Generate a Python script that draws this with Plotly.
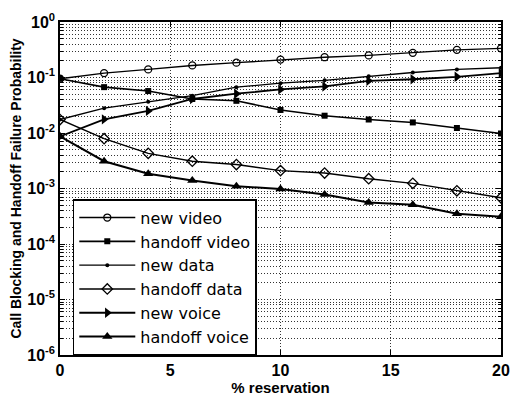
import plotly.graph_objects as go

# % reservation levels
reservation = [0, 2, 4, 6, 8, 10, 12, 14, 16, 18, 20]

# blocking / failure probabilities per traffic class
new_video = [0.095, 0.12, 0.14, 0.165, 0.185, 0.21, 0.232, 0.25, 0.278, 0.315, 0.335]
handoff_video = [0.095, 0.067, 0.057, 0.041, 0.038, 0.026, 0.0205, 0.0175, 0.0155, 0.0123, 0.0098]
new_data = [0.0175, 0.028, 0.0365, 0.047, 0.067, 0.079, 0.089, 0.105, 0.123, 0.14, 0.15]
handoff_data = [0.0175, 0.0079, 0.0043, 0.0031, 0.0027, 0.0021, 0.0019, 0.0015, 0.00124, 0.00091, 0.00068]
new_voice = [0.0087, 0.0176, 0.025, 0.041, 0.051, 0.061, 0.069, 0.087, 0.093, 0.103, 0.12]
handoff_voice = [0.0087, 0.0031, 0.00185, 0.0014, 0.0011, 0.00098, 0.00078, 0.00056, 0.00051, 0.00035, 0.00031]

series = [
    ("new video", new_video, dict(symbol="circle-open", size=7, line=dict(width=1.3)), 1.4),
    ("handoff video", handoff_video, dict(symbol="square", size=6), 1.6),
    ("new data", new_data, dict(symbol="circle", size=4), 1.3),
    ("handoff data", handoff_data, dict(symbol="diamond-open", size=8, line=dict(width=1.3)), 1.4),
    ("new voice", new_voice, dict(symbol="triangle-right", size=9), 1.8),
    ("handoff voice", handoff_voice, dict(symbol="triangle-up", size=9), 2.0),
]

fig = go.Figure()
for name, vals, marker, lw in series:
    fig.add_trace(go.Scatter(
        x=reservation, y=vals, name=name, mode="lines+markers",
        line=dict(color="black", width=lw),
        marker=dict(color="black", **marker),
    ))

decades = [10.0 ** k for k in range(-6, 1)]
decade_text = ["10<sup>%d</sup>" % k for k in range(-6, 1)]
minor_vals = [m * 10.0 ** k for k in range(-6, 0) for m in range(2, 10)]

font = dict(family="Liberation Sans, Arial, sans-serif", size=16, color="black", weight="bold")
grid = dict(gridcolor="#333", griddash="1px,2px", gridwidth=1)

fig.update_layout(
    width=521, height=404,
    margin=dict(l=60, r=11, t=17, b=40),
    paper_bgcolor="white", plot_bgcolor="white",
    font=font,
    showlegend=True,
    legend=dict(
        x=0.029, y=0.468, xanchor="left", yanchor="top",
        bgcolor="white", bordercolor="black", borderwidth=1.5,
        font=dict(family="DejaVu Sans, sans-serif", size=16, color="black", weight="normal"),
        itemwidth=56, tracegroupgap=0,
    ),
    xaxis=dict(
        range=[0, 20], tickvals=[0, 5, 10, 15, 20],
        ticks="inside", ticklen=5, tickcolor="black",
        showline=True, linecolor="black", linewidth=1.5, mirror="ticks",
        showgrid=True, **grid,
        zeroline=False,
        title=dict(text="% reservation", font=dict(size=15), standoff=4),
        tickfont=dict(size=16),
    ),
    yaxis=dict(
        type="log", range=[-6, 0],
        tickvals=decades, ticktext=decade_text,
        ticks="inside", ticklen=5, tickcolor="black",
        showline=True, linecolor="black", linewidth=1.5, mirror="ticks",
        showgrid=True, **grid,
        minor=dict(tickvals=minor_vals, ticks="inside", ticklen=3, tickcolor="black",
                   showgrid=True, **grid),
        zeroline=False,
        title=dict(text="Call Blocking and Handoff Failure Probability", font=dict(size=14), standoff=2),
        tickfont=dict(size=16),
    ),
)

fig.write_html("out.html")
